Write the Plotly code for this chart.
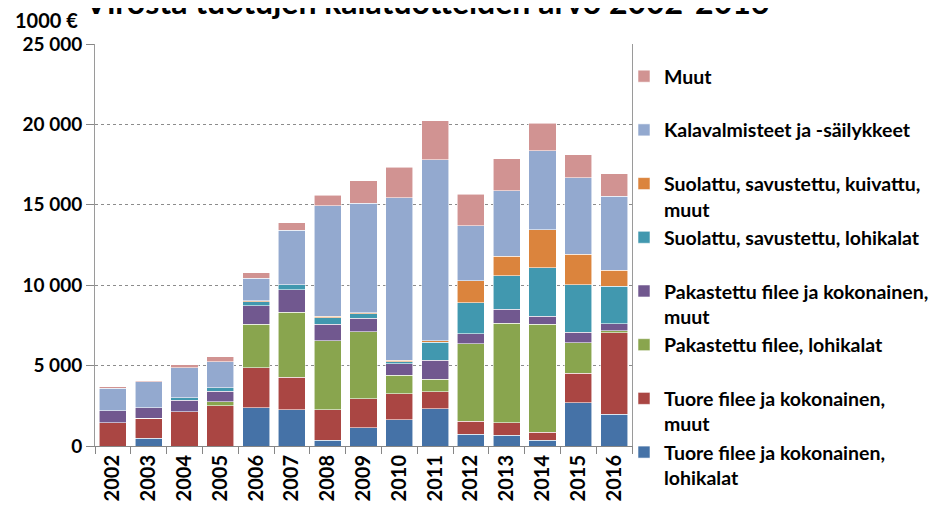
import plotly.graph_objects as go

years = ["2002", "2003", "2004", "2005", "2006", "2007", "2008", "2009",
         "2010", "2011", "2012", "2013", "2014", "2015", "2016"]

tuore_lohikalat = [0, 480, 0, 0, 2370, 2240, 350, 1140, 1620, 2320, 730, 670, 370, 2700, 1990]
tuore_muut = [1450, 1260, 2120, 2490, 2510, 2040, 1890, 1790, 1620, 1040, 810, 780, 480, 1830, 5050]
pakastettu_lohikalat = [0, 0, 0, 250, 2700, 4050, 4300, 4170, 1160, 790, 4830, 6190, 6730, 1880, 140]
pakastettu_muut = [730, 630, 740, 680, 1140, 1380, 1040, 850, 720, 1190, 600, 850, 500, 650, 420]
suolattu_lohikalat = [0, 0, 130, 190, 250, 310, 410, 270, 110, 1110, 1950, 2100, 3000, 2980, 2320]
suolattu_muut = [0, 0, 0, 0, 60, 0, 90, 60, 90, 110, 1350, 1220, 2370, 1900, 1000]
kalavalmisteet = [1410, 1620, 1890, 1620, 1390, 3390, 6850, 6830, 10120, 11230, 3430, 4050, 4920, 4750, 4600]
muut = [80, 60, 180, 330, 370, 480, 670, 1390, 1910, 2450, 1950, 2010, 1700, 1410, 1420]

series_names = [
    "Tuore filee ja kokonainen,<br>lohikalat",
    "Tuore filee ja kokonainen,<br>muut",
    "Pakastettu filee, lohikalat<br> ",
    "Pakastettu filee ja kokonainen,<br>muut",
    "Suolattu, savustettu, lohikalat<br> ",
    "Suolattu, savustettu, kuivattu,<br>muut",
    "Kalavalmisteet ja -säilykkeet<br> ",
    "Muut<br> ",
]
series_values = [tuore_lohikalat, tuore_muut, pakastettu_lohikalat, pakastettu_muut,
                 suolattu_lohikalat, suolattu_muut, kalavalmisteet, muut]
colors = ["#4572A7", "#AA4643", "#89A54E", "#71588F",
          "#4198AF", "#DB843D", "#93A9CF", "#D19392"]

title_text = "Virosta tuotujen kalatuotteiden arvo 2002-2016"
unit_text = "1000 €"

FONT = "Lato"

fig = go.Figure()
for i, (name, vals, col) in enumerate(zip(series_names, series_values, colors)):
    fig.add_trace(go.Bar(
        x=years, y=vals, name=name, legendgroup=f"g{i}",
        marker=dict(color=col, line=dict(color="rgba(255,255,255,0.7)", width=0.8)),
    ))

# page body has an 8px margin, so the figure is laid out 8px up/left of the target
fig.update_layout(
    width=937, height=504,
    barmode="stack", bargap=0.245,
    paper_bgcolor="white", plot_bgcolor="white",
    margin=dict(l=87, r=313, t=36, b=66, autoexpand=False),
    separators=", ",
    font=dict(family=FONT, color="black"),
    showlegend=True,
    legend=dict(traceorder="reversed", xref="container", yref="container",
                x=616 / 937, y=1 - 49 / 504, xanchor="left", yanchor="top",
                valign="top", tracegroupgap=0, maxheight=600,
                font=dict(family=FONT, size=19.5, color="black", weight="bold"),
                bgcolor="rgba(0,0,0,0)"),
    xaxis=dict(type="category", tickson="boundaries", ticks="outside", ticklen=7,
               tickcolor="#868686", showline=True, linecolor="#868686", linewidth=1,
               tickangle=-90, automargin=False,
               tickfont=dict(family=FONT, size=20, color="black", weight="bold"),
               showgrid=False),
    yaxis=dict(range=[0, 25000], dtick=5000, tickformat=",d", ticks="outside", ticklen=8,
               tickcolor="#868686", showline=True, linecolor="#9a9a9a", linewidth=1,
               mirror=True, showgrid=True, gridcolor="#8c8c8c", griddash="dot", gridwidth=1,
               zeroline=False, automargin=False,
               tickfont=dict(family=FONT, size=19, color="black", weight="bold")),
    annotations=[
        dict(text="<b>" + title_text + "</b>", xref="paper", yref="paper",
             x=(418 - 87) / 537, y=(438 + 6) / 402, xanchor="center", yanchor="middle",
             showarrow=False, font=dict(family=FONT, size=32, color="black")),
        dict(text="<b>" + unit_text + "</b>", xref="paper", yref="paper",
             x=-0.028, y=(438 - 12) / 402, xanchor="right", yanchor="middle",
             showarrow=False, font=dict(family=FONT, size=20, color="black")),
    ],
)

fig.write_html("out.html")
